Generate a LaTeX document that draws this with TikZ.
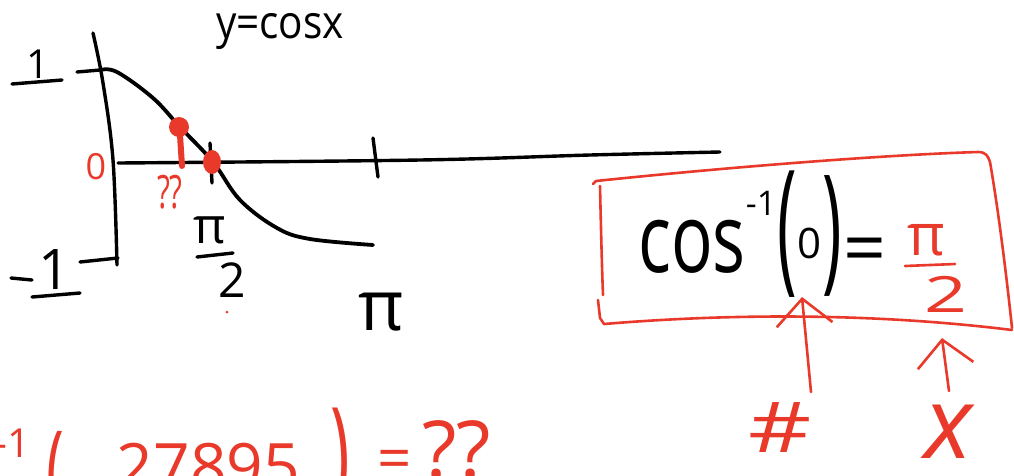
\documentclass[tikz,border=0pt]{standalone}
\usepackage{fontspec}
\setmainfont{Open Sans}
\usetikzlibrary{arrows.meta}
\definecolor{pen}{HTML}{E8392A}
\newcommand\FSz[1]{\fontsize{#1}{#1}\selectfont}
\begin{document}
\begin{tikzpicture}[x=1pt,y=-1pt,
  blk/.style={line width=3.8pt,line cap=round,line join=round,black},
  axl/.style={line width=3.4pt,line cap=round,line join=round,black},
  redl/.style={line width=2.6pt,line cap=round,line join=round,pen},
  lbl/.style={inner sep=0pt,text=black},
  rlbl/.style={inner sep=0pt,text=pen},
  barb/.style={-{Straight Barb[length=26pt,width=56pt]}}
]
\useasboundingbox (0,0) rectangle (1014,475);

% ---- graph of y = cos x ----
\node[lbl,font=\FSz{46}] (title) at (280,31) {\scalebox{0.88}[1]{y=cosx}};

\draw[axl] plot[smooth,tension=0.6] coordinates {(93,33) (103,83) (113,160) (117,265)};
\draw[axl] plot[smooth,tension=0.6] coordinates {(118,163) (420,160) (590,155) (720,152)};
\draw[axl] (77,72) -- (100,70);
\draw[axl] (80,262) -- (118,258);
\draw[axl] (210,143) -- (212,183);
\draw[axl] (373,138) -- (378,177);

\draw[blk] plot[smooth,tension=0.6] coordinates {(100,70) (117,72) (153,98) (180,127) (213,162) (240,200) (277,228) (310,239) (373,245)};

\node[lbl,font=\FSz{40}] (one) at (38,64) {1};
\draw[axl] (12,84) -- (62,80);
\node[lbl,font=\FSz{56}] (mone) at (55,270) {1};
\draw[axl] (11,278) -- (32,280);
\draw[axl] (32,297) -- (80,293);

\node[rlbl,font=\FSz{36}] (zero) at (96,167) {0};

% red points
\fill[pen] (179,127) ellipse [x radius=10pt, y radius=10pt];
\draw[pen,line width=6pt,line cap=round] (180,135) -- (182,166);
\fill[pen] (212,162) ellipse [x radius=9pt, y radius=12pt];
\node[rlbl,font=\FSz{46}] (qq) at (170,192) {\scalebox{0.65}[1]{??}};
\fill[pen] (227,312) circle (1.5pt);

% pi/2 and pi
\node[lbl,font=\FSz{50}] (pia) at (210,230) {π};
\draw[axl] (197,257) -- (233,253);
\node[lbl,font=\FSz{48}] (twoa) at (232,280) {2};
\node[lbl,font=\FSz{70}] (pib) at (381,312) {π};

% ---- boxed identity ----
\draw[redl] (600,186) .. controls (601,230) and (602,270) .. (603,295);
\draw[redl] (598,300) -- (600,318) -- (604,324) .. controls (700,316) and (850,310) .. (1012,330);
\draw[redl] (593,184) -- (596,181) .. controls (720,168) and (880,155) .. (978,152)
  .. controls (986,152) and (988,156) .. (990,162) .. controls (1000,220) and (1008,290) .. (1012,328);

\node[lbl,font=\FSz{96}] (cos) at (692,247) {\scalebox{0.72}[1]{cos}};
\node[lbl,font=\FSz{34}] (sup) at (761,203) {-1};
\node[lbl,font=\FSz{66}] (lp) at (787,234) {\scalebox{1}[2.2]{(}};
\node[lbl,font=\FSz{42}] (arg) at (809,243) {0};
\node[lbl,font=\FSz{66}] (rp) at (832,236) {\scalebox{1}[2.1]{)}};
\node[lbl,font=\FSz{75}] (eq) at (865,256) {=};
\node[rlbl,font=\FSz{58}] (pic) at (926,240) {π};
\draw[redl] (905,266) -- (955,264);
\node[rlbl,font=\FSz{50}] (twoc) at (946,294) {\scalebox{1.5}[1]{2}};

% arrows and labels below
\coordinate (a1tail) at (811,392);
\coordinate (a1tip) at (802,297);
\draw[redl,barb] (a1tail) -- (a1tip);
\coordinate (a2tail) at (949,391);
\coordinate (a2tip) at (942,338);
\draw[redl,barb] (a2tail) -- (a2tip);
\node[rlbl,font=\FSz{70}] (hash) at (780,428) {\scalebox{1.4}[1]{\#}};
\node[rlbl,font=\FSz{100}\itshape] (ex) at (948,432) {x};

% ---- bottom line (cut off) ----
\node[rlbl,font=\FSz{40}] (bsup) at (12,443) {-1};
\node[rlbl,font=\FSz{60}] (blp) at (55,478) {\scalebox{1}[1.8]{(}};
\node[rlbl,font=\FSz{64},anchor=base east] (bnum) at (300,489) {.27895};
\node[rlbl,font=\FSz{66}] (brp) at (340,463) {\scalebox{1}[1.9]{)}};
\node[rlbl,font=\FSz{60}] (beq) at (395,465) {=};
\node[rlbl,font=\FSz{80},anchor=base west] (bq) at (422,478) {??};
\end{tikzpicture}
\end{document}
